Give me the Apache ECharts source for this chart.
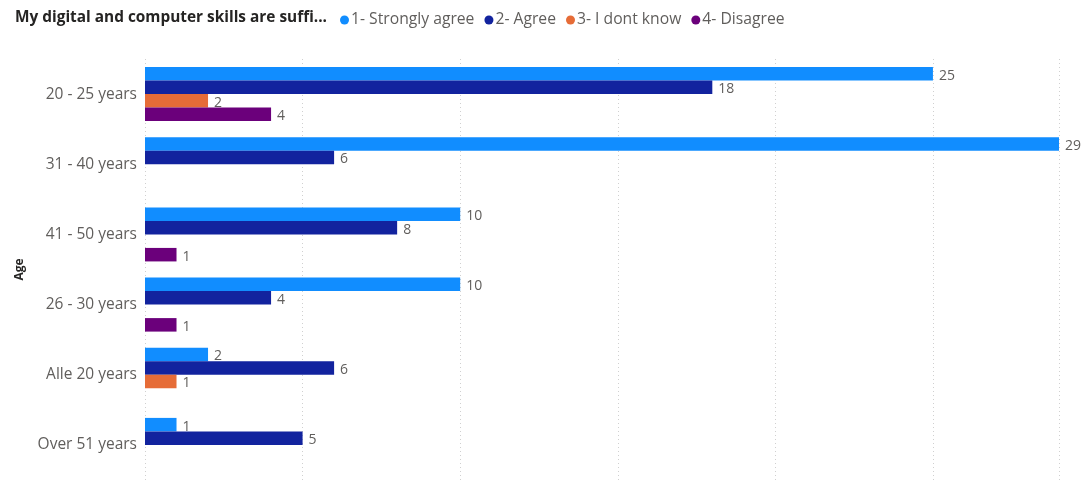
<!DOCTYPE html>
<html>
<head>
<meta charset="utf-8">
<script src="https://cdn.jsdelivr.net/npm/echarts@6/dist/echarts.min.js"></script>
<style>html,body{margin:0;padding:0;background:#fff}#c{width:1083px;height:480px}</style>
</head>
<body>
<div id="c"></div>
<script>
const categories = ["20 - 25 years", "31 - 40 years", "41 - 50 years", "26 - 30 years", "Alle 20 years", "Over 51 years"];
const seriesNames = ["1- Strongly agree", "2- Agree", "3- I dont know", "4- Disagree"];
const stronglyAgree = [25, 29, 10, 10, 2, 1];
const agree = [18, 6, 8, 4, 6, 5];
const dontKnow = [2, null, null, null, 1, null];
const disagree = [4, null, 1, 1, null, null];
const colors = ["#118DFF", "#12239E", "#E66C37", "#6B007B"];
const values = [stronglyAgree, agree, dontKnow, disagree];

const font = "'Open Sans', 'Noto Sans', sans-serif";
const chart = echarts.init(document.getElementById('c'));
chart.setOption({
  animation: false,
  textStyle: { fontFamily: font },
  title: {
    text: "My digital and computer skills are suffi...",
    left: 10, top: 5,
    textStyle: { fontFamily: font, fontSize: 15.4, fontWeight: 'bold', color: '#252423' }
  },
  legend: {
    left: 335, top: 7,
    icon: 'circle', itemWidth: 9, itemHeight: 9, itemGap: 10,
    textStyle: { fontFamily: font, fontSize: 15.7, color: '#605E5C', padding: [0, 0, 0, -3] },
    data: seriesNames
  },
  grid: { left: 145, right: 24, top: 59, bottom: 0, containLabel: false },
  xAxis: {
    type: 'value', min: 0, max: 29, interval: 5,
    axisLabel: { show: false }, axisLine: { show: false }, axisTick: { show: false },
    splitLine: { show: true, lineStyle: { type: [1, 3], color: '#D0D0D0', width: 1 } }
  },
  yAxis: {
    type: 'category', inverse: true, data: categories,
    name: 'Age', nameLocation: 'middle', nameGap: 119, nameRotate: 90,
    nameTextStyle: { fontFamily: font, fontSize: 12, fontWeight: 'bold', color: '#252423' },
    axisLine: { show: false }, axisTick: { show: false },
    axisLabel: { fontFamily: font, fontSize: 15.5, color: '#605E5C', margin: 8 }
  },
  series: seriesNames.map((n, i) => ({
    name: n, type: 'bar', data: values[i],
    itemStyle: { color: colors[i] },
    barGap: '0%', barCategoryGap: '23%',
    label: { show: true, position: 'right', distance: 6, offset: [0, 2], fontFamily: font, fontSize: 14, color: '#605E5C' }
  }))
});
</script>
</body>
</html>
